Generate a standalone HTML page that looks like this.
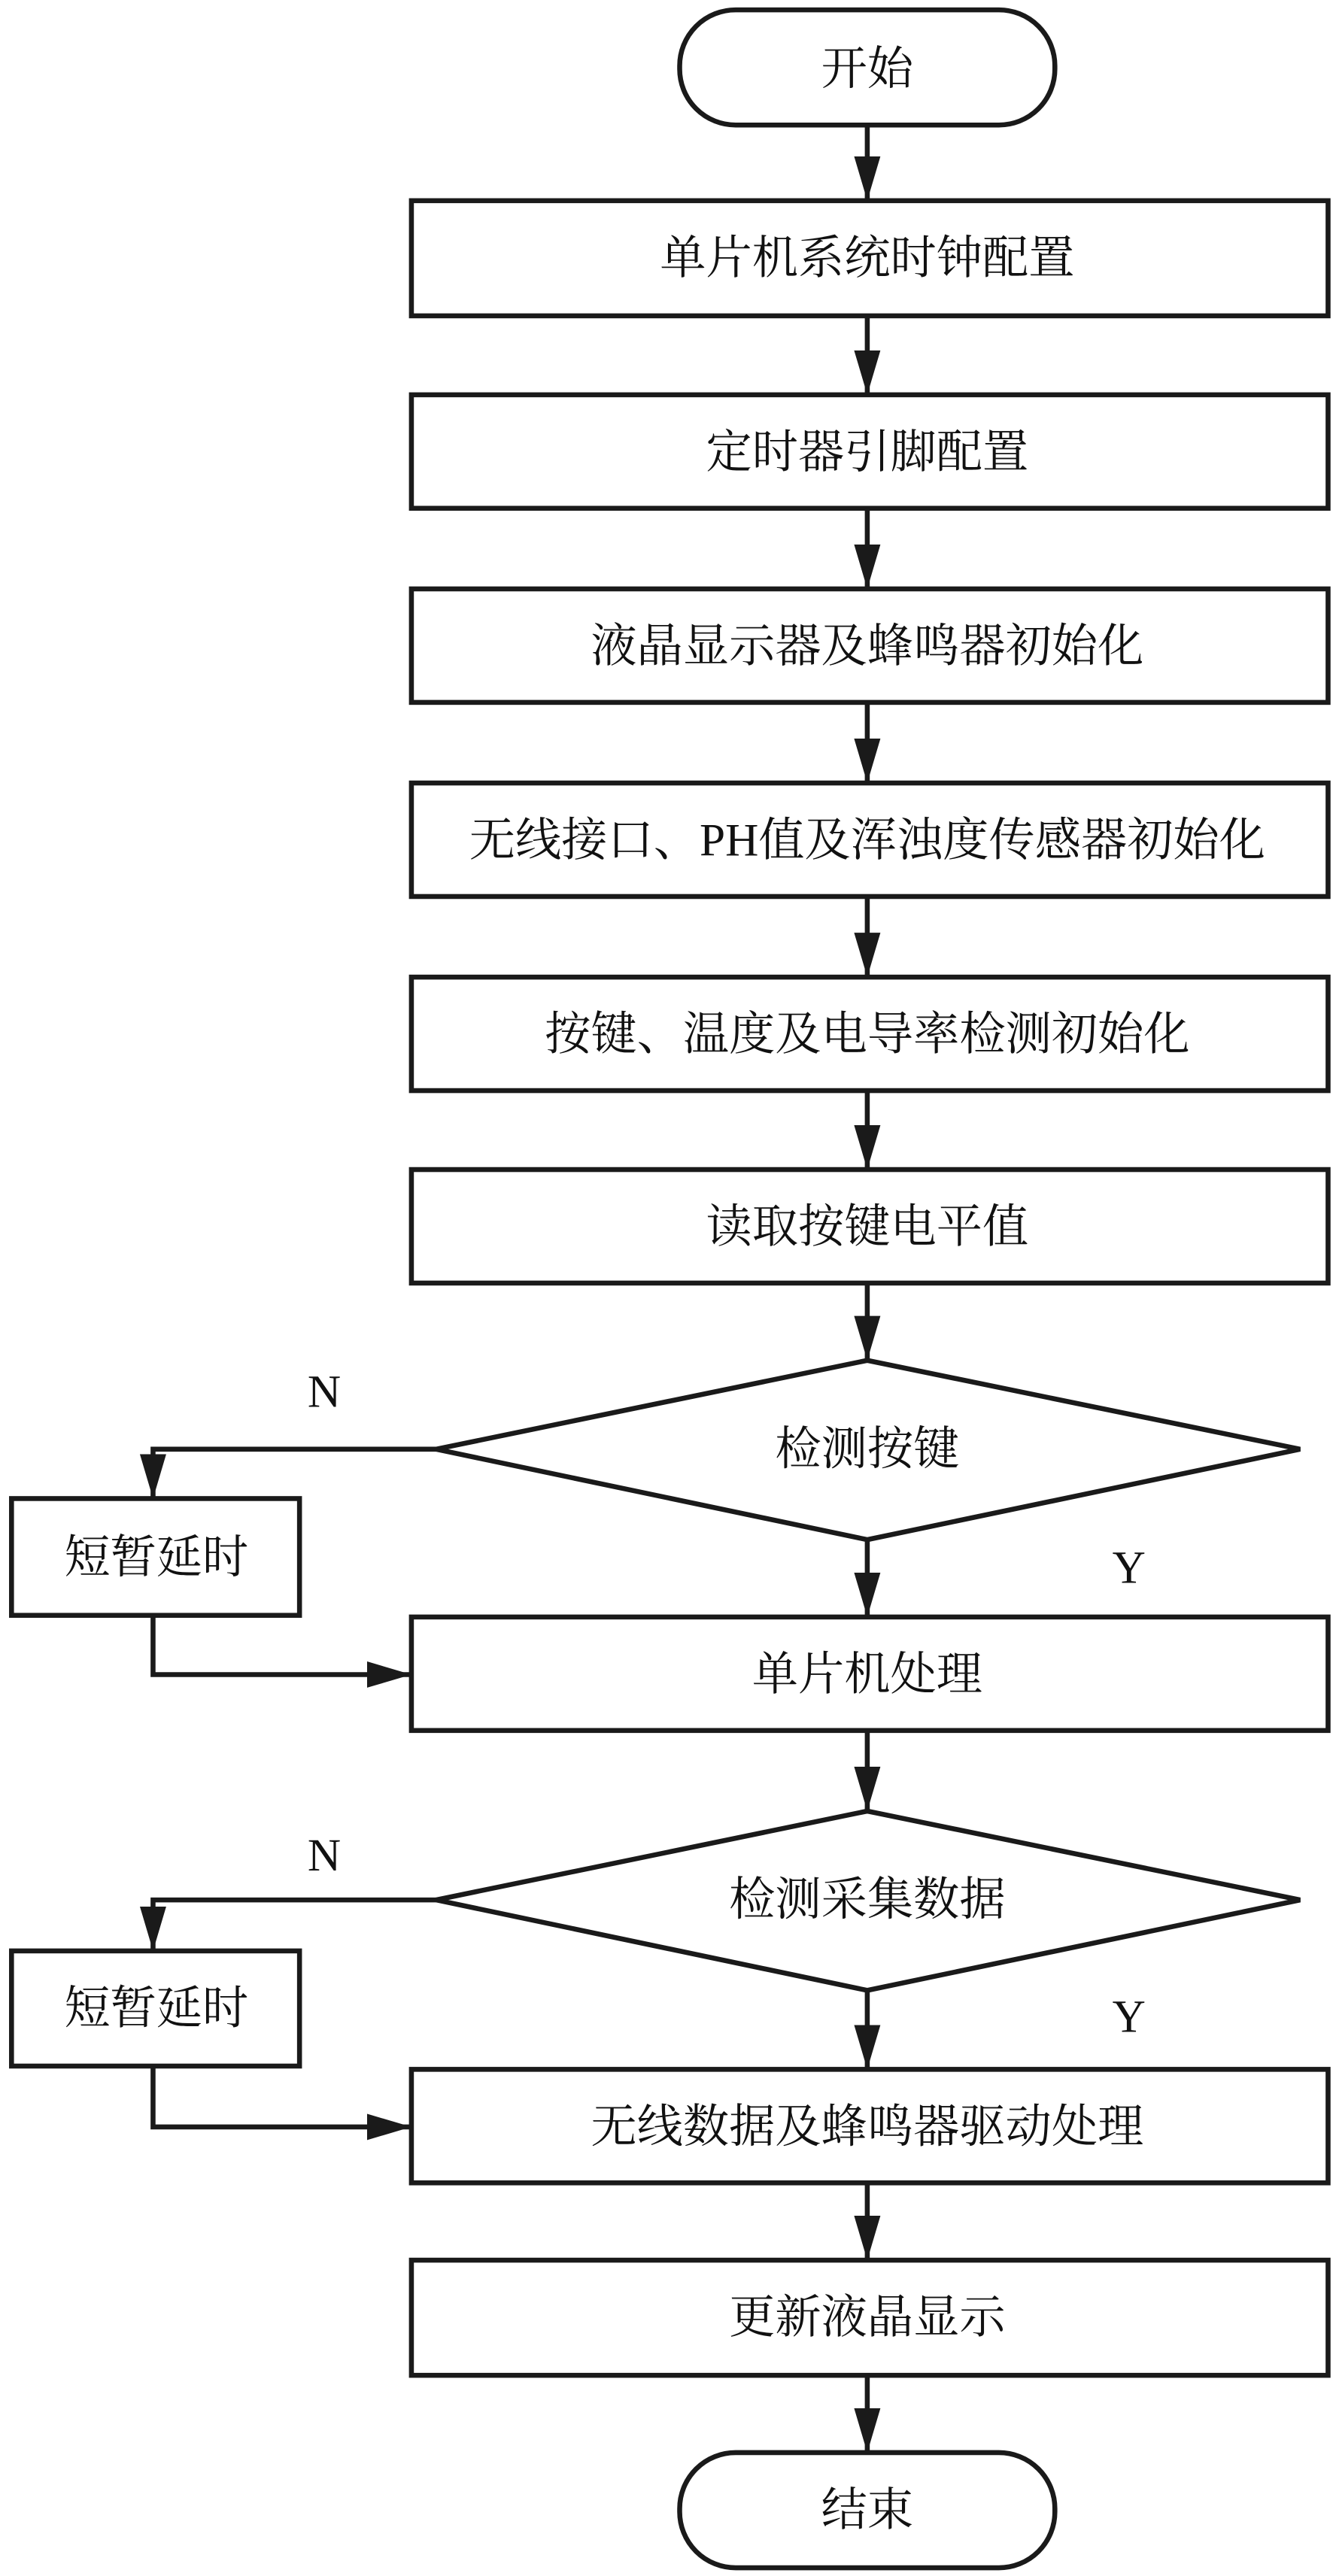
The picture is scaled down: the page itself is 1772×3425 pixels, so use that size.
<!DOCTYPE html>
<html><head><meta charset="utf-8"><style>
html,body{margin:0;padding:0;background:#fff;}
svg{display:block;}
text{font-family:"Liberation Serif","Noto Serif CJK SC",serif;font-size:28px;fill:#111;text-anchor:middle;dominant-baseline:central;}
</style></head><body>
<svg width="1772" height="3425" viewBox="0 0 810 1566" preserveAspectRatio="none" xmlns="http://www.w3.org/2000/svg">
<defs>
<marker id="a" viewBox="0 0 27 16" refX="27" refY="8" markerWidth="27" markerHeight="16" markerUnits="userSpaceOnUse" orient="auto">
<path d="M0,0 L27,8 L0,16 Z" fill="#1a1a1a"/></marker>
</defs>
<g fill="none" stroke="#1a1a1a" stroke-width="3">
<rect x="413" y="6" width="228" height="70" rx="34" fill="#fff"/>
<rect x="250" y="122" width="557" height="70"/>
<rect x="250" y="240" width="557" height="69"/>
<rect x="250" y="358" width="557" height="69"/>
<rect x="250" y="476" width="557" height="69"/>
<rect x="250" y="594" width="557" height="69"/>
<rect x="250" y="711" width="557" height="69"/>
<polygon points="527,827 790,881 527,936 265,881"/>
<rect x="250" y="983" width="557" height="69"/>
<polygon points="527,1101 790,1155 527,1210 265,1155"/>
<rect x="250" y="1258" width="557" height="69"/>
<rect x="250" y="1374" width="557" height="70"/>
<rect x="413" y="1491" width="228" height="70" rx="34"/>
<rect x="7" y="911" width="175" height="71"/>
<rect x="7" y="1186" width="175" height="70"/>
<line x1="527" y1="76" x2="527" y2="122" marker-end="url(#a)"/>
<line x1="527" y1="192" x2="527" y2="240" marker-end="url(#a)"/>
<line x1="527" y1="309" x2="527" y2="358" marker-end="url(#a)"/>
<line x1="527" y1="427" x2="527" y2="476" marker-end="url(#a)"/>
<line x1="527" y1="545" x2="527" y2="594" marker-end="url(#a)"/>
<line x1="527" y1="663" x2="527" y2="711" marker-end="url(#a)"/>
<line x1="527" y1="780" x2="527" y2="827" marker-end="url(#a)"/>
<line x1="527" y1="936" x2="527" y2="983" marker-end="url(#a)"/>
<line x1="527" y1="1052" x2="527" y2="1101" marker-end="url(#a)"/>
<line x1="527" y1="1210" x2="527" y2="1258" marker-end="url(#a)"/>
<line x1="527" y1="1327" x2="527" y2="1374" marker-end="url(#a)"/>
<line x1="527" y1="1444" x2="527" y2="1491" marker-end="url(#a)"/>
<polyline points="265,881 93,881 93,911" marker-end="url(#a)"/>
<polyline points="93,982 93,1018 250,1018" marker-end="url(#a)"/>
<polyline points="265,1155 93,1155 93,1186" marker-end="url(#a)"/>
<polyline points="93,1256 93,1293 250,1293" marker-end="url(#a)"/>
</g>
<text x="527" y="42">开始</text>
<text x="527" y="157">单片机系统时钟配置</text>
<text x="527" y="275">定时器引脚配置</text>
<text x="527" y="393">液晶显示器及蜂鸣器初始化</text>
<text x="527" y="511">无线接口、PH值及浑浊度传感器初始化</text>
<text x="527" y="629">按键、温度及电导率检测初始化</text>
<text x="527" y="746">读取按键电平值</text>
<text x="527" y="881">检测按键</text>
<text x="527" y="1018">单片机处理</text>
<text x="527" y="1155">检测采集数据</text>
<text x="527" y="1293">无线数据及蜂鸣器驱动处理</text>
<text x="527" y="1409">更新液晶显示</text>
<text x="527" y="1526">结束</text>
<text x="95" y="947">短暂延时</text>
<text x="95" y="1221">短暂延时</text>
<text x="197" y="846">N</text>
<text x="686" y="953">Y</text>
<text x="197" y="1128">N</text>
<text x="686" y="1226">Y</text>
</svg>
</body></html>
